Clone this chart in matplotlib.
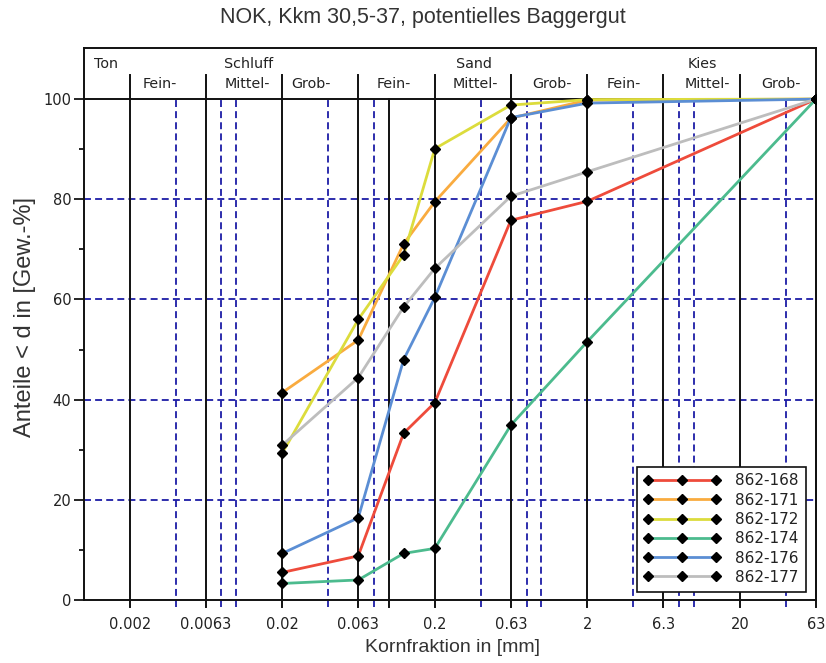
import matplotlib
matplotlib.use('Agg')
import matplotlib.pyplot as plt
from matplotlib.lines import Line2D

# ---------------- data ----------------
sieve_mm = [0.02, 0.063, 0.125, 0.2, 0.63, 2, 63]
s168 = [5.5, 8.8, 33.3, 39.4, 75.8, 79.6, 100]
s171 = [41.4, 51.9, 71.1, 79.5, 96.2, 99.8, 100]
s172 = [29.3, 56.0, 68.9, 90.1, 98.8, 99.9, 100]
s174 = [3.3, 4.0, 9.3, 10.3, 34.9, 51.6, 100]
s176 = [9.3, 16.4, 48.0, 60.4, 96.3, 99.2, 100]
s177 = [30.9, 44.4, 58.5, 66.2, 80.6, 85.5, 100]
series_names = ['862-168', '862-171', '862-172', '862-174', '862-176', '862-177']
series_values = [s168, s171, s172, s174, s176, s177]
series_colors = ['#ee4b3b', '#f9ab3f', '#dcdc3c', '#4cbb8e', '#5b8ed4', '#bdbdbd']

major_lines = [0.002, 0.0063, 0.02, 0.063, 0.1, 0.2, 0.63, 2, 6.3, 20, 63]
minor_lines = [0.004, 0.008, 0.01, 0.04, 0.08, 0.4, 0.8, 1, 4, 8, 10, 40]
tick_values = [0.002, 0.0063, 0.02, 0.063, 0.2, 0.63, 2, 6.3, 20, 63]
tick_labels = ['0.002', '0.0063', '0.02', '0.063', '0.2', '0.63', '2', '6.3', '20', '63']
header_ticks = [0.002, 0.0063, 0.02, 0.063, 0.2, 0.63, 2, 6.3, 20]

# header labels
group_labels = ['Ton', 'Schluff', 'Sand', 'Kies']
group_x = [0.0014, 0.0120, 0.36, 11.4]
sub_labels = ['Fein-', 'Mittel-', 'Grob-', 'Fein-', 'Mittel-', 'Grob-', 'Fein-', 'Mittel-', 'Grob-']
sub_x = [0.00314, 0.0118, 0.0309, 0.108, 0.37, 1.18, 3.44, 12.2, 37.4]

plt.rcParams['font.family'] = ['DejaVu Sans']
plt.rcParams['lines.scale_dashes'] = False

fig = plt.figure(figsize=(8.26, 6.63), dpi=100)
ax = fig.add_axes([83.7 / 826, 63 / 663, (816 - 83.7) / 826, (600 - 48) / 663])
ax.set_xscale('log')
ax.set_xlim(0.001, 63)
ax.set_ylim(0, 110.2)

grid_blue = '#1c1ca6'
tick_ext = -1.4
for xv in minor_lines:
    ax.plot([xv, xv], [tick_ext, 100], color=grid_blue, lw=1.3,
            dashes=(5, 3), clip_on=False, zorder=1)
for xv in major_lines:
    ax.plot([xv, xv], [tick_ext, 100], color='#111111', lw=1.4,
            clip_on=False, zorder=1.5)
for yv in [20, 40, 60, 80]:
    ax.axhline(yv, color=grid_blue, lw=1.3, dashes=(5, 3), zorder=1)
ax.axhline(100, color='#111111', lw=1.4, zorder=1.5)

for xv in header_ticks:
    ax.plot([xv, xv], [100, 104.8], color='#111111', lw=1.4, zorder=1.5)

hdr_font = dict(fontsize=10.3, color='#222222', ha='center', va='center')
for t, xv in zip(group_labels, group_x):
    ax.text(xv, 107.0, t, **hdr_font)
for t, xv in zip(sub_labels, sub_x):
    ax.text(xv, 103.1, t, **hdr_font)

handles = []
for name, vals, col in zip(series_names, series_values, series_colors):
    ax.plot(sieve_mm, vals, color=col, lw=2.0, zorder=3)
    ax.plot(sieve_mm, vals, ls='none', marker='D', ms=4.6, color='black', zorder=4)
    handles.append(Line2D([0], [0], color=col, lw=2.0, marker='D', ms=4.6,
                          markerfacecolor='black', markeredgecolor='black'))

ax.set_xticks(tick_values)
ax.set_xticklabels(tick_labels)
ax.xaxis.set_minor_locator(matplotlib.ticker.NullLocator())
ax.tick_params(axis='x', length=0, pad=12, labelsize=10.5, labelcolor='#222222')
ax.set_yticks([0, 20, 40, 60, 80, 100])
ax.set_yticks([10, 30, 50, 70, 90], minor=True)
ax.tick_params(axis='y', which='major', length=7.5, width=1.2, pad=1.5,
               labelsize=10.5, labelcolor='#222222')
ax.tick_params(axis='y', which='minor', length=3.5, width=1.2)
for sp in ax.spines.values():
    sp.set_linewidth(1.4)
    sp.set_color('#111111')

leg = ax.legend(handles, series_names, loc='lower right',
                bbox_to_anchor=(0.986, 0.015), borderaxespad=0,
                numpoints=3, handlelength=5.0, handletextpad=1.0,
                labelspacing=0.28, fontsize=11, fancybox=False,
                framealpha=1, edgecolor='#111111', borderpad=0.45)
leg.get_frame().set_linewidth(1.2)
leg.set_zorder(10)
for t in leg.get_texts():
    t.set_color('#222222')

fig.text(423 / 826, 1 - 18 / 663, 'NOK, Kkm 30,5-37, potentielles Baggergut',
         ha='center', va='center', fontsize=15.5, color='#333333',
         family='Liberation Sans')
fig.text(453 / 826, 1 - 648 / 663, 'Kornfraktion in [mm]',
         ha='center', va='center', fontsize=14, color='#333333',
         family='Liberation Sans')
fig.text(25 / 826, 1 - 317 / 663, 'Anteile < d in [Gew.-%]',
         ha='center', va='center', rotation=90, fontsize=17, color='#333333',
         family='Liberation Sans')

fig.savefig('out.png', dpi=100)
